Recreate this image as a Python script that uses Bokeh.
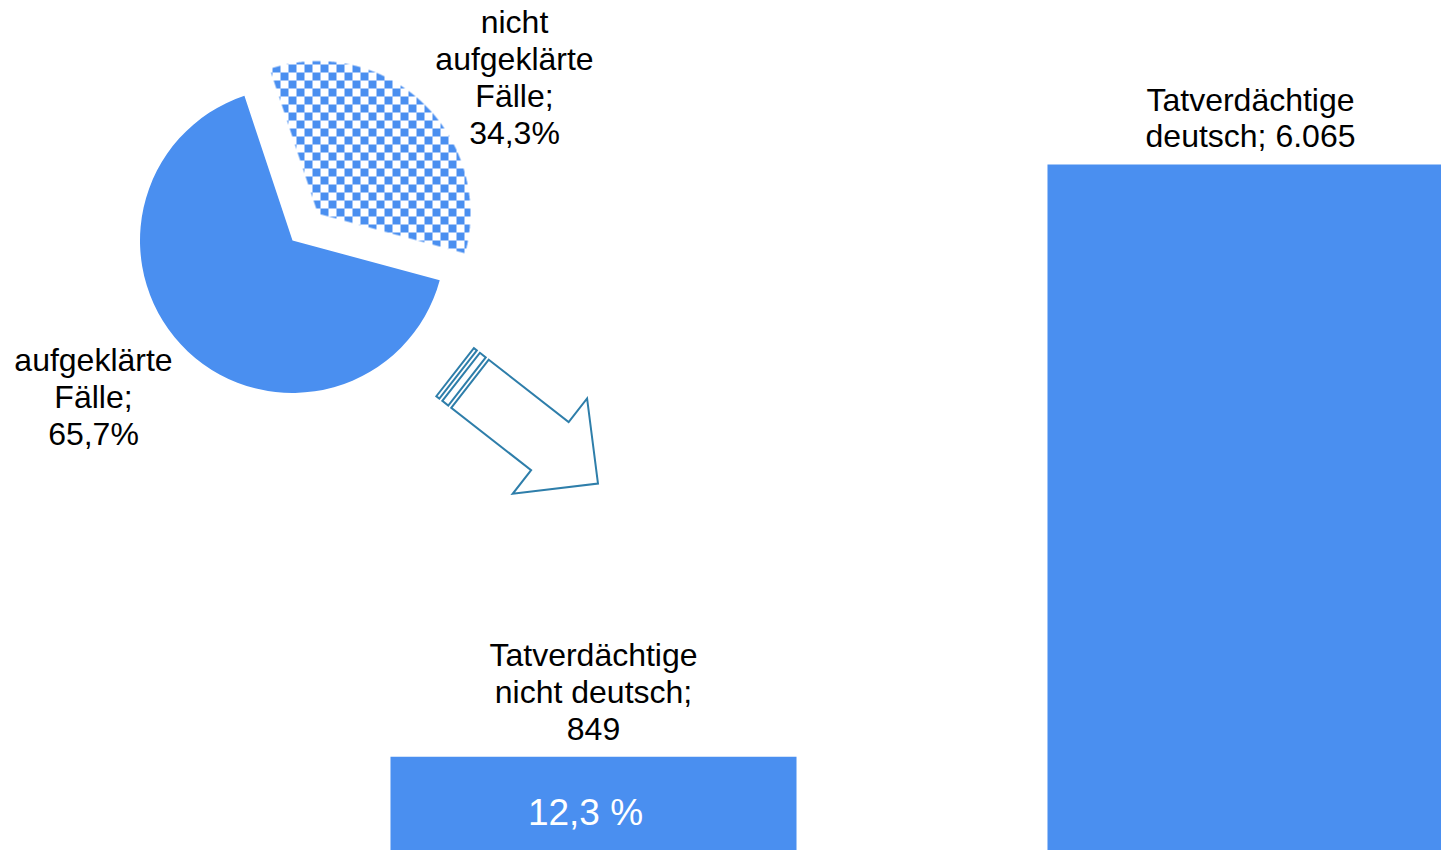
import textwrap

import numpy as np
from bokeh.core.properties import value
from bokeh.embed import file_html
from bokeh.models import Range1d
from bokeh.plotting import figure
from bokeh.resources import INLINE

# ---------------- data ----------------
pie_categories = ["nicht aufgeklärte Fälle", "aufgeklärte Fälle"]
pie_values = [34.3, 65.7]          # percent
bar_categories = ["Tatverdächtige nicht deutsch", "Tatverdächtige deutsch"]
bar_values = [849, 6065]

# ---------------- style / layout ----------------
BLUE = "#4a8ff0"
BLUE_RGB = (74, 143, 240)
ARROW = "#2e7eaa"
FONT = "Liberation Sans"
W, H = 1441, 850
LINE_H = 1.02


def dy(screen_y):
    """layout helper: screen y (px from top) -> main data y"""
    return H - screen_y


def de_num(v, d=0):
    s = f"{v:,.{d}f}"
    return s.replace(",", "X").replace(".", ",").replace("X", ".")


p = figure(width=W, height=H, x_range=Range1d(0, W), y_range=Range1d(0, H),
           output_backend="svg", toolbar_location=None, min_border=0,
           x_axis_location=None, y_axis_location=None)
p.grid.visible = False
p.outline_line_color = None
p.background_fill_color = "white"
p.border_fill_color = "white"

# ---------------- pie ----------------
PIE_CX, PIE_CY = 292, dy(240)
PIE_R = 152.5
START_DEG = -15.1
EXPLODE = 37
CHECK = 8  # checker square size, px

fr = np.array(pie_values) / sum(pie_values)
edges = np.radians(START_DEG + 360 * np.concatenate([[0], np.cumsum(fr)]))
starts, ends = edges[:-1], edges[1:]
mids = (starts + ends) / 2

# slice 0: nicht aufgeklärte (exploded, checkered)
cx0 = PIE_CX + EXPLODE * np.cos(mids[0])
cy0 = PIE_CY + EXPLODE * np.sin(mids[0])

# checker fill of the exploded slice, rendered as an RGBA image (pixel aligned)
x0 = int(np.floor(cx0 - PIE_R)) - 1
y0 = int(np.floor(cy0 - PIE_R)) - 1
size = int(2 * PIE_R) + 4
ss = 3
sub = (np.arange(size * ss) + 0.5) / ss
gx, gy = np.meshgrid(x0 + sub, y0 + sub)
rr = np.hypot(gx - cx0, gy - cy0)
aa = np.mod(np.arctan2(gy - cy0, gx - cx0) - starts[0], 2 * np.pi)
inside = (rr <= PIE_R) & (aa <= (ends[0] - starts[0]))
cov = inside.reshape(size, ss, size, ss).mean(axis=(1, 3))
px = x0 + np.arange(size)
py = H - (y0 + np.arange(size) + 1)  # screen y of pixel row
PX, PY = np.meshgrid(px, py)
parity = ((PX // CHECK) + (PY // CHECK)) % 2 == 0
img = np.zeros((size, size), dtype=np.uint32)
view = img.view(dtype=np.uint8).reshape((size, size, 4))
view[..., 0] = BLUE_RGB[0]
view[..., 1] = BLUE_RGB[1]
view[..., 2] = BLUE_RGB[2]
view[..., 3] = (255 * cov * parity).astype(np.uint8)
p.image_rgba(image=[img], x=x0, y=y0, dw=size, dh=size)
p.wedge(x=[cx0], y=[cy0], radius=PIE_R, start_angle=[starts[0]], end_angle=[ends[0]],
        fill_alpha=0, line_color=None)

# slice 1: aufgeklärte (solid)
p.wedge(x=[PIE_CX], y=[PIE_CY], radius=PIE_R, start_angle=[starts[1]], end_angle=[ends[1]],
        fill_color=BLUE, line_color=None)

pie_labels = [textwrap.fill(f"{c}; {de_num(v, 1)}%", 11) for c, v in zip(pie_categories, pie_values)]
pie_label_pos = [(514, dy(77)), (93, dy(396.5))]
p.text(x=[q[0] for q in pie_label_pos], y=[q[1] for q in pie_label_pos], text=pie_labels,
       text_align="center", text_baseline="middle", text_font=value(FONT),
       text_font_size="32px", text_line_height=LINE_H, text_color="black")

# ---------------- arrow (striped right arrow) ----------------
T = np.array([469.5, 383.3])          # tail centre of body, screen px
ang = np.radians(37.95)
d = np.array([np.cos(ang), np.sin(ang)])
n = np.array([-np.sin(ang), np.cos(ang)])
BW, HW, BL, HL = 30.5, 60.5, 101.3, 61.0


def loc(u, v):
    s = T + u * d + v * n
    return s[0], dy(s[1])


shapes = [
    [(0, -BW), (BL, -BW), (BL, -HW), (BL + HL, 0), (BL, HW), (BL, BW), (0, BW)],
    [(-11.3, -BW), (-3.8, -BW), (-3.8, BW), (-11.3, BW)],
    [(-18.9, -BW), (-15.1, -BW), (-15.1, BW), (-18.9, BW)],
]
xs, ys = [], []
for sh in shapes:
    pts = [loc(u, v) for u, v in sh]
    xs.append([q[0] for q in pts])
    ys.append([q[1] for q in pts])
p.patches(xs=xs, ys=ys, fill_color="white", line_color=ARROW, line_width=2, line_join="miter")

# ---------------- bars ----------------
BASE_Y, TOP_Y = 852.6, 164.0      # screen y of value 0 and of the largest bar
k = (BASE_Y - TOP_Y) / max(bar_values)
C0, STEP = 593.0, 657.0           # screen x of first bar centre, bar spacing
p.extra_x_ranges = {"bx": Range1d((0 - C0) / STEP, (W - C0) / STEP)}
p.extra_y_ranges = {"by": Range1d((BASE_Y - H) / k, BASE_Y / k)}
idx = list(range(len(bar_values)))
p.vbar(x=idx, top=bar_values, bottom=0, width=0.618, x_range_name="bx", y_range_name="by",
       fill_color=BLUE, line_color=None)

bar_labels = [textwrap.fill(f"{c}; {de_num(v)}", 14) for c, v in zip(bar_categories, bar_values)]
p.text(x=idx, y=bar_values, text=bar_labels, x_range_name="bx", y_range_name="by",
       text_align="center", text_baseline="bottom", y_offset=-10, text_font=value(FONT),
       text_font_size="32px", text_line_height=LINE_H, text_color="black")

share = 100 * bar_values[0] / sum(bar_values)
p.text(x=[0], y=[bar_values[0] / 2], text=[f"{de_num(share, 1)} %"], x_range_name="bx",
       y_range_name="by", x_offset=-8, y_offset=8, text_align="center", text_baseline="middle",
       text_font=value(FONT), text_font_size="37px", text_color="white")

open("out.html", "w").write(file_html(p, INLINE))
